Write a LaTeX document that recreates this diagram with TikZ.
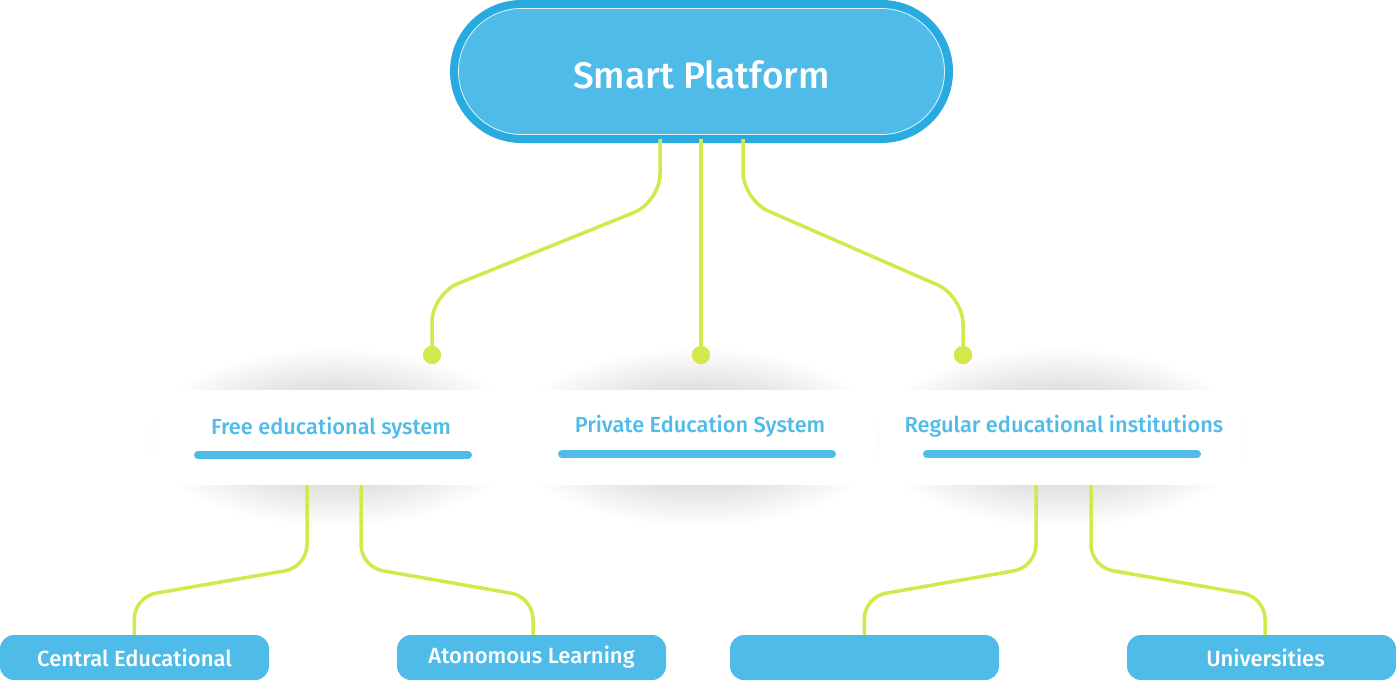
\documentclass[tikz,border=0pt]{standalone}
\usepackage{fontspec}
\setmainfont{Fira Sans}
\newfontfamily\medfont{Fira Sans Medium}
\usetikzlibrary{shapes.misc,calc}
\definecolor{sky}{RGB}{79,187,232}
\definecolor{skyedge}{RGB}{41,171,226}
\definecolor{lime}{RGB}{212,232,76}
\begin{document}
\begin{tikzpicture}[x=1pt,y=-1pt,
  topbox/.style={rounded rectangle, draw=skyedge, line width=8pt, fill=sky,
    minimum width=495pt, minimum height=135pt, inner sep=0pt},
  toptext/.style={text=white, inner sep=0pt, font=\medfont\fontsize{37}{42}\selectfont},
  topinner/.style={rounded rectangle, draw=white!80!sky, line width=0.8pt,
    minimum width=486pt, minimum height=126pt, inner sep=0pt},
  card/.style={rectangle, fill=white, minimum width=362pt, minimum height=95pt, inner sep=0pt},
  cardtext/.style={text=sky, font=\medfont\fontsize{21.8}{26}\selectfont, inner sep=0pt},
  bar/.style={draw=sky, line width=8pt, line cap=round},
  leaf/.style={rectangle, rounded corners=14pt, fill=sky, minimum width=269pt,
    minimum height=45pt, inner sep=0pt, text=white, font=\medfont\fontsize{22}{26}\selectfont},
  conn/.style={draw=lime, line width=3.5pt, rounded corners=28pt},
  connb/.style={draw=lime, line width=3.5pt, rounded corners=22pt},
  dot/.style={circle, fill=lime, minimum size=18pt, inner sep=0pt},
  shadowshade/.style={inner color=black!26, outer color=white}
]
\useasboundingbox[fill=white] (0,0) rectangle (1396,680);

% soft shadows behind the cards
\begin{scope}[blend mode=multiply]
  \shade[shadowshade] (335,437) ellipse (190 and 90);
  \shade[shadowshade] (697,437) ellipse (190 and 90);
  \shade[shadowshade] (1060,437) ellipse (190 and 90);
\end{scope}

% top node
\node[topbox] (top) at (701.5,71.5) {};
\node[topinner] (topin) at (701.5,71.5) {};
\node[toptext] (toplabel) at (701.5,75) {Smart Platform};

% cards
\node[card] (c1) at (335,437.5) {};
\node[card] (c2) at (697,437.5) {};
\node[card] (c3) at (1060,437.5) {};
\node[cardtext] (t1) at (331,428) {Free educational system};
\node[cardtext] (t2) at (700,426) {Private Education System};
\node[cardtext] (t3) at (1064,426) {Regular educational institutions};
\draw[bar] (198,455) -- (468,455);
\draw[bar] (562,454) -- (832,454);
\draw[bar] (927,454) -- (1197,454);

% leaves
\node[leaf] (b1) at (134.5,657.5) {Central Educational};
\node[leaf] (b2) at (531.5,657.5) {Atonomous Learning};
\node[leaf] (b3) at (864.5,657.5) {};
\node[leaf] (b4) at (1261.5,657.5) {\hspace*{8pt}Universities};

% dots
\node[dot] (d1) at (432,355) {};
\node[dot] (d2) at (701,355) {};
\node[dot] (d3) at (963,355) {};

% top connectors
\draw[conn] ($(top.south)+(-41.5,-4)$) -- (660,202) -- (432,294) -- (d1.center);
\draw[conn] ($(top.south)+(-0.5,-4)$) -- (d2.center);
\draw[conn] ($(top.south)+(41.5,-4)$) -- (743,200) -- (963,296) -- (d3.center);
\node[dot] at (d1) {};
\node[dot] at (d2) {};
\node[dot] at (d3) {};

% bottom connectors
\draw[connb] ($(c1.south)+(-28,0)$) -- (307,567) -- (134,597) -- (b1.north);
\draw[connb] ($(c1.south)+(26,0)$) -- (361,567) -- (533,597) -- ($(b2.north)+(1.5,0)$);
\draw[connb] ($(c3.south)+(-24,0)$) -- (1036,567) -- (864,597) -- (b3.north);
\draw[connb] ($(c3.south)+(31,0)$) -- (1091,567) -- (1265,597) -- ($(b4.north)+(3.5,0)$);
\end{tikzpicture}
\end{document}
